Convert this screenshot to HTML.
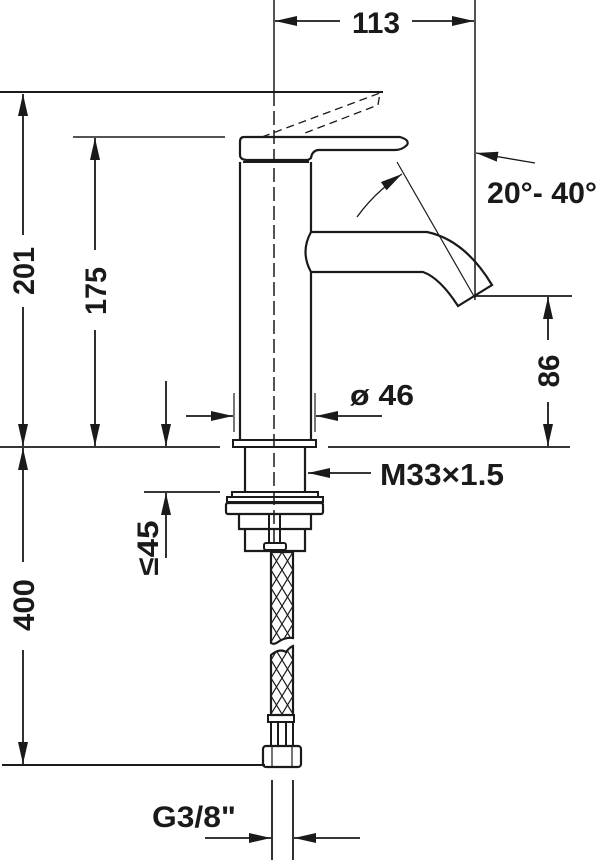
<!DOCTYPE html>
<html><head><meta charset="utf-8"><style>
html,body{margin:0;padding:0;background:#fff;}
svg{display:block;}
text{font-family:"Liberation Sans Narrow","Liberation Sans",sans-serif;font-weight:bold;fill:#1a1a1a;}
</style></head><body>
<svg width="600" height="860" viewBox="0 0 600 860" xmlns="http://www.w3.org/2000/svg">
<defs>
<marker id="a" viewBox="0 0 22 10" refX="22" refY="5" markerWidth="22" markerHeight="10" markerUnits="userSpaceOnUse" orient="auto"><path d="M0,0 L22,5 L0,10 Z" fill="#1a1a1a"/></marker>
<pattern id="mesh" width="11" height="18" patternUnits="userSpaceOnUse" x="271" y="552"><path d="M0,0 L11,18 M11,0 L0,18" stroke="#1a1a1a" stroke-width="1.2" fill="none"/></pattern>
</defs>
<g stroke="#1a1a1a" fill="none">
<line x1="274" y1="0" x2="274" y2="92" stroke-width="1.5"/>
<line x1="475" y1="0" x2="475" y2="300" stroke-width="1.5"/>
<line x1="0" y1="92" x2="383" y2="92" stroke-width="2"/>
<line x1="73" y1="137" x2="225" y2="137" stroke-width="1.5"/>
<line x1="0" y1="447" x2="220" y2="447" stroke-width="1.8"/>
<line x1="328" y1="447" x2="570" y2="447" stroke-width="1.8"/>
<line x1="475" y1="296" x2="572" y2="296" stroke-width="1.8"/>
<line x1="144" y1="492" x2="220" y2="492" stroke-width="1.8"/>
<line x1="2" y1="765" x2="265" y2="765" stroke-width="2"/>
<line x1="234" y1="393" x2="234" y2="432" stroke-width="1.2"/>
<line x1="315" y1="393" x2="315" y2="432" stroke-width="1.2"/>
<line x1="272" y1="780" x2="272" y2="860" stroke-width="1.8"/>
<line x1="293" y1="780" x2="293" y2="860" stroke-width="1.8"/>
<line x1="274" y1="92" x2="274" y2="545" stroke-width="1.5" stroke-dasharray="14,5"/>
<line x1="340" y1="21" x2="275" y2="21" stroke-width="1.8" marker-end="url(#a)"/>
<line x1="412" y1="21" x2="474" y2="21" stroke-width="1.8" marker-end="url(#a)"/>
<line x1="23" y1="235" x2="23" y2="94" stroke-width="1.8" marker-end="url(#a)"/>
<line x1="23" y1="307" x2="23" y2="446" stroke-width="1.8" marker-end="url(#a)"/>
<line x1="95" y1="250" x2="95" y2="138" stroke-width="1.8" marker-end="url(#a)"/>
<line x1="95" y1="330" x2="95" y2="446" stroke-width="1.8" marker-end="url(#a)"/>
<line x1="166" y1="381" x2="166" y2="446" stroke-width="1.8" marker-end="url(#a)"/>
<line x1="186" y1="416" x2="233" y2="416" stroke-width="1.8" marker-end="url(#a)"/>
<line x1="382" y1="416" x2="316" y2="416" stroke-width="1.8" marker-end="url(#a)"/>
<line x1="371" y1="473" x2="308" y2="473" stroke-width="1.8" marker-end="url(#a)"/>
<line x1="548" y1="340" x2="548" y2="297" stroke-width="1.8" marker-end="url(#a)"/>
<line x1="548" y1="402" x2="548" y2="446" stroke-width="1.8" marker-end="url(#a)"/>
<line x1="166" y1="558" x2="166" y2="493" stroke-width="1.8" marker-end="url(#a)"/>
<line x1="23" y1="562" x2="23" y2="448" stroke-width="1.8" marker-end="url(#a)"/>
<line x1="23" y1="650" x2="23" y2="764" stroke-width="1.8" marker-end="url(#a)"/>
<line x1="205" y1="838" x2="271" y2="838" stroke-width="1.8" marker-end="url(#a)"/>
<line x1="360" y1="838" x2="294" y2="838" stroke-width="1.8" marker-end="url(#a)"/>
<line x1="535" y1="163" x2="476" y2="153" stroke-width="1.3" marker-end="url(#a)"/>
<line x1="397" y1="162" x2="475" y2="298" stroke-width="1.2"/>
<path d="M357,217 Q375,192 402,174" stroke-width="1.3" marker-end="url(#a)"/>
<path d="M262,137 L380,93 L378,105 L305,133" stroke-width="1.3" stroke-dasharray="8,5"/>
<path d="M244,137 L400,137 Q410,140 407,145 Q402,150 395,150 L318,150 Q312,151 311,158 L308,160 L248,160 Q240,160 240,155 L240,142 Q240,137 244,137 Z" stroke-width="2.2"/>
<path d="M240,162 L240,440 M311,162 L311,232 M311,272 L311,440" stroke-width="2.2"/>
<line x1="243" y1="162" x2="309" y2="162" stroke-width="2"/>
<path d="M311,232 Q300,252 311,272" stroke-width="2.2"/>
<path d="M311,232 L427,232 Q465,240 492,285 L458,306 Q440,278 423,272 L311,272" stroke-width="2.2"/>
<rect x="233" y="440" width="83" height="7" stroke-width="2"/>
<path d="M245,447 L245,492 M305,447 L305,492" stroke-width="2.2"/>
<rect x="232" y="492" width="86" height="5" stroke-width="2"/>
<rect x="227" y="497" width="96" height="5" stroke-width="2"/>
<rect x="226" y="503" width="97" height="11" rx="2" stroke-width="2.2"/>
<path d="M239,514 L239,529 L311,529 L311,514" stroke-width="2.2"/>
<path d="M245,529 L245,551 L305,551 L305,529" stroke-width="2.2"/>
<path d="M269,514 L269,543 M280,514 L280,543" stroke-width="2"/>
<rect x="264" y="543" width="22" height="7" rx="2" stroke-width="2"/>
<path d="M271,552 L293,552 L293,638 Q285,637 278,642 Q274,645 271,643 Z" fill="url(#mesh)" stroke-width="2.2"/>
<path d="M271,655 Q280,648 286,652 Q290,647 293,646 L293,715 L271,715 Z" fill="url(#mesh)" stroke-width="2.2"/>
<rect x="268" y="715" width="26" height="7" stroke-width="2"/>
<path d="M271,722 L271,745 M293,722 L293,745 M278,722 L278,745 M286,722 L286,745" stroke-width="2"/>
<rect x="263" y="746" width="38" height="21" rx="3" stroke-width="2.2"/>
<path d="M272,746 L272,767 M292,746 L292,767" stroke-width="1.2"/>
</g>
<text x="352" y="33" font-size="30" textLength="48" lengthAdjust="spacingAndGlyphs">113</text>
<text x="487" y="203" font-size="30" textLength="110" lengthAdjust="spacingAndGlyphs">20°- 40°</text>
<text x="350" y="405" font-size="29" textLength="64" lengthAdjust="spacingAndGlyphs">ø 46</text>
<text x="380" y="485" font-size="31" textLength="124" lengthAdjust="spacingAndGlyphs">M33×1.5</text>
<text x="152" y="827" font-size="30" textLength="84" lengthAdjust="spacingAndGlyphs">G3/8"</text>
<text transform="translate(34,271) rotate(-90)" text-anchor="middle" font-size="30" textLength="48" lengthAdjust="spacingAndGlyphs">201</text>
<text transform="translate(106,291) rotate(-90)" text-anchor="middle" font-size="30" textLength="48" lengthAdjust="spacingAndGlyphs">175</text>
<text transform="translate(34,605) rotate(-90)" text-anchor="middle" font-size="30" textLength="52" lengthAdjust="spacingAndGlyphs">400</text>
<text transform="translate(559,371) rotate(-90)" text-anchor="middle" font-size="30" textLength="33" lengthAdjust="spacingAndGlyphs">86</text>
<text transform="translate(158,548) rotate(-90)" text-anchor="middle" font-size="30" textLength="55" lengthAdjust="spacingAndGlyphs">≤45</text>
</svg>
</body></html>
